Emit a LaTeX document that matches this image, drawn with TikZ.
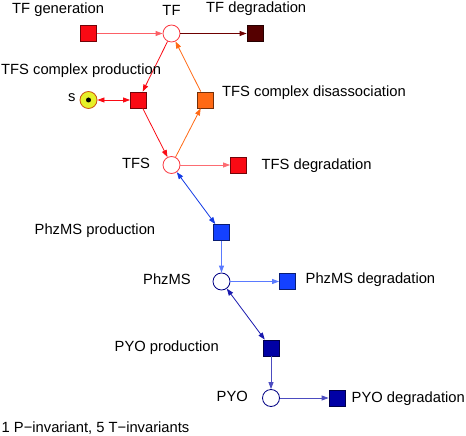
\documentclass[tikz,border=0pt]{standalone}
\usepackage{fontspec}
\setmainfont{Liberation Sans}
\usetikzlibrary{arrows.meta}

\definecolor{tfred}{RGB}{250,10,20}
\definecolor{tfdark}{RGB}{85,0,0}
\definecolor{tforange}{RGB}{255,105,20}
\definecolor{phzblue}{RGB}{20,65,255}
\definecolor{pyoblue}{RGB}{0,0,165}
\definecolor{sig}{RGB}{230,240,40}

\begin{document}
\begin{tikzpicture}[x=1bp, y=-1bp,
  place/.style={circle, draw=#1, fill=white, minimum size=17bp, inner sep=0pt, line width=0.8bp},
  trans/.style={rectangle, fill=#1, draw=#1!45!black, minimum size=16bp, inner sep=0pt, line width=0.8bp},
  lbl/.style={anchor=base west, inner sep=0pt, font=\fontsize{14.8}{17}\selectfont},
  arc/.style={draw=#1, line width=0.8bp, -{Triangle[length=7bp,width=5bp]}},
  biarc/.style={draw=#1, line width=0.8bp, {Triangle[length=7bp,width=5bp]}-{Triangle[length=7bp,width=5bp]}}]
  \useasboundingbox (0,0) rectangle (466,436);

  % places and transitions
  \node[trans=tfred] (tfgen) at (88.5,33.5) {};
  \node[place=tfred!80] (tf) at (171.5,33.5) {};
  \node[trans=tfdark] (tfdeg) at (255,33.5) {};
  \node[circle, fill=sig, draw=tforange!80!black, minimum size=17bp, inner sep=0pt, line width=0.8bp] (s) at (88.5,100) {};
  \fill (s) circle (2.5bp);
  \node[trans=tfred] (tfscp) at (138.5,100) {};
  \node[trans=tforange] (tfscd) at (205,100) {};
  \node[place=tfred!80] (tfs) at (171.5,165) {};
  \node[trans=tfred] (tfsdeg) at (238.5,165) {};
  \node[trans=phzblue] (phzprod) at (221.5,232.5) {};
  \node[place=pyoblue!80!black] (phz) at (221.5,281.5) {};
  \node[trans=phzblue] (phzdeg) at (287.5,281.5) {};
  \node[trans=pyoblue] (pyoprod) at (271,348) {};
  \node[place=pyoblue!80!black] (pyo) at (271,398) {};
  \node[trans=pyoblue] (pyodeg) at (337,398) {};

  % arcs
  \draw[arc=tfred!65] (tfgen) -- (tf);
  \draw[arc=tfdark!85!red] (tf) -- (tfdeg);
  \draw[arc=tfred] (tf) -- (tfscp);
  \draw[biarc=tfred] (s) -- (tfscp);
  \draw[arc=tfred] (tfscp) -- (tfs);
  \draw[arc=tforange] (tfs) -- (tfscd);
  \draw[arc=tforange] (tfscd) -- (tf);
  \draw[arc=tfred!60] (tfs) -- (tfsdeg);
  \draw[biarc=phzblue!90!black] (tfs) -- (phzprod);
  \draw[arc=phzblue!70] (phzprod) -- (phz);
  \draw[arc=phzblue!70] (phz) -- (phzdeg);
  \draw[biarc=pyoblue!90] (phz) -- (pyoprod);
  \draw[arc=pyoblue!70] (pyoprod) -- (pyo);
  \draw[arc=pyoblue!70] (pyo) -- (pyodeg);

  % labels
  \node[lbl] (tfgenlbl) at (12,13.3) {TF generation};
  \node[lbl, anchor=base] (tflbl) at (171.5,16) {TF};
  \node[lbl] (tfdeglbl) at (206,13) {TF degradation};
  \node[lbl] (tfscplbl) at (1,75) {TFS complex production};
  \node[lbl] (slbl) at (68,102) {s};
  \node[lbl] (tfscdlbl) at (222,97) {TFS complex disassociation};
  \node[lbl] (tfslbl) at (122,169) {TFS};
  \node[lbl] (tfsdeglbl) at (261.5,170) {TFS degradation};
  \node[lbl] (phzprodlbl) at (34.5,234) {PhzMS production};
  \node[lbl] (phzlbl) at (143,284) {PhzMS};
  \node[lbl] (phzdeglbl) at (305.5,283) {PhzMS degradation};
  \node[lbl] (pyoprodlbl) at (114.5,351) {PYO production};
  \node[lbl] (pyolbl) at (216.5,401) {PYO};
  \node[lbl] (pyodeglbl) at (351.5,402) {PYO degradation};
  \node[lbl] (invlbl) at (1.5,432.5) {1 P−invariant, 5 T−invariants};
\end{tikzpicture}
\end{document}
